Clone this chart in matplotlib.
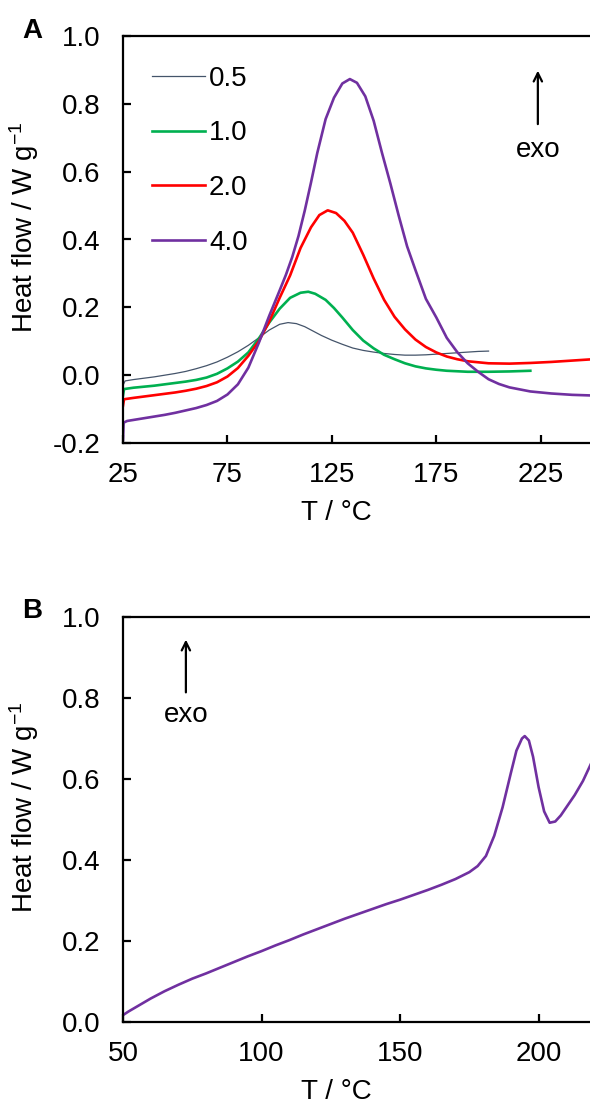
import matplotlib
matplotlib.use("Agg")
import matplotlib.pyplot as plt

plt.rcParams['font.family'] = ['Liberation Sans', 'DejaVu Sans']
plt.rcParams['mathtext.fontset'] = 'custom'
plt.rcParams['mathtext.rm'] = 'Liberation Sans'
plt.rcParams['mathtext.it'] = 'Liberation Sans'

# ---------------- data: panel A ----------------
rate_labels = ["0.5", "1.0", "2.0", "4.0"]
rate_colors = ["#44546A", "#00B050", "#FF0000", "#7030A0"]

T_05 = [25, 26, 30, 35, 40, 45, 50, 55, 60, 65, 70, 75, 80, 85, 90, 95, 100, 104, 108, 112,
        116, 120, 125, 130, 135, 140, 145, 150, 155, 160, 165, 170, 175, 180, 185, 190, 195, 200]
H_05 = [-0.03, -0.017, -0.013, -0.009, -0.005, 0.000, 0.005, 0.011, 0.019, 0.028, 0.039,
        0.053, 0.069, 0.088, 0.110, 0.133, 0.150, 0.155, 0.152, 0.143, 0.130, 0.117, 0.103,
        0.091, 0.080, 0.073, 0.068, 0.064, 0.061, 0.059, 0.059, 0.060, 0.062, 0.064, 0.066,
        0.068, 0.070, 0.071]

T_10 = [25, 25.5, 30, 35, 40, 45, 50, 55, 60, 65, 70, 75, 80, 85, 90, 95, 100, 105, 110,
        113.7, 117, 122, 126, 130, 135, 140, 145, 150, 155, 160, 165, 170, 175, 180, 190,
        200, 210, 220]
H_10 = [-0.06, -0.041, -0.037, -0.034, -0.031, -0.027, -0.023, -0.019, -0.014, -0.007,
        0.004, 0.020, 0.040, 0.067, 0.108, 0.155, 0.196, 0.228, 0.243, 0.246, 0.240, 0.222,
        0.198, 0.170, 0.133, 0.102, 0.079, 0.060, 0.047, 0.035, 0.026, 0.020, 0.016, 0.013,
        0.010, 0.010, 0.011, 0.013]

T_20 = [25, 25.5, 30, 35, 40, 45, 50, 55, 60, 65, 70, 75, 80, 85, 90, 95, 100, 105, 110,
        115, 119, 123, 127, 131, 135, 140, 145, 150, 155, 160, 165, 170, 175, 180, 185, 190,
        200, 210, 220, 230, 240, 250]
H_20 = [-0.09, -0.071, -0.067, -0.063, -0.059, -0.055, -0.051, -0.046, -0.040, -0.032,
        -0.021, -0.004, 0.021, 0.057, 0.100, 0.158, 0.228, 0.294, 0.375, 0.436, 0.472, 0.486,
        0.478, 0.455, 0.420, 0.355, 0.285, 0.222, 0.172, 0.135, 0.105, 0.083, 0.067, 0.055,
        0.047, 0.041, 0.035, 0.034, 0.036, 0.039, 0.043, 0.047]

T_40 = [25, 25.3, 27, 30, 35, 40, 45, 50, 55, 60, 65, 70, 75, 80, 85, 90, 95, 100, 103,
        106, 109, 112, 115, 118, 122, 126, 130, 133.6, 137, 141, 145, 149, 153, 157, 161,
        165, 170, 175, 180, 185, 190, 195, 200, 205, 210, 220, 230, 240, 250]
H_40 = [-0.19, -0.14, -0.135, -0.132, -0.127, -0.122, -0.117, -0.111, -0.104, -0.097,
        -0.088, -0.076, -0.057, -0.027, 0.022, 0.095, 0.175, 0.250, 0.296, 0.348, 0.410,
        0.485, 0.568, 0.655, 0.755, 0.818, 0.860, 0.873, 0.862, 0.822, 0.750, 0.655, 0.565,
        0.470, 0.380, 0.310, 0.225, 0.170, 0.110, 0.068, 0.035, 0.010, -0.012, -0.026,
        -0.036, -0.048, -0.054, -0.058, -0.060]

# ---------------- data: panel B ----------------
T_B = [50, 52, 55, 60, 65, 70, 75, 80, 85, 90, 95, 100, 105, 110, 115, 120, 125, 130, 135,
       140, 145, 150, 155, 160, 165, 170, 175, 178, 181, 184, 187, 190, 192, 194, 195, 196.5,
       198, 200, 202, 204, 206, 208, 210, 213, 216, 219]
H_B = [0.017, 0.026, 0.038, 0.058, 0.076, 0.092, 0.107, 0.120, 0.134, 0.148, 0.162, 0.175,
       0.189, 0.202, 0.216, 0.229, 0.242, 0.255, 0.267, 0.279, 0.291, 0.302, 0.314, 0.326,
       0.339, 0.353, 0.370, 0.385, 0.410, 0.460, 0.530, 0.615, 0.670, 0.700, 0.706, 0.695,
       0.655, 0.580, 0.520, 0.492, 0.495, 0.510, 0.530, 0.560, 0.595, 0.639]

xticks_A = [25, 75, 125, 175, 225]
yticks_A = [-0.2, 0.0, 0.2, 0.4, 0.6, 0.8, 1.0]
xticks_B = [50, 100, 150, 200]
yticks_B = [0.0, 0.2, 0.4, 0.6, 0.8, 1.0]

FS = 20
W, H = 590, 1109
fig = plt.figure(figsize=(W / 100, H / 100), dpi=100)


def px_axes(left, top, right, bottom):
    return fig.add_axes([left / W, (H - bottom) / H, (right - left) / W, (bottom - top) / H])


def style(ax):
    for s in ['left', 'bottom', 'top']:
        ax.spines[s].set_linewidth(1.6)
    ax.spines['right'].set_visible(False)
    ax.tick_params(direction='in', length=6, width=1.6, labelsize=FS, top=False, right=False)
    ax.tick_params(axis='y', pad=16)
    ax.tick_params(axis='x', pad=14)
    ax.set_ylabel(r'Heat flow / W g$^{-1}$', fontsize=FS)
    ax.set_xlabel('T / °C', fontsize=FS, labelpad=2)


def fmt1(v):
    return f"{v:.1f}"


# ---------------- panel A ----------------
axA = px_axes(123, 36, 593, 443)
series = [(T_05, H_05, 0.9), (T_10, H_10, 1.9), (T_20, H_20, 1.9), (T_40, H_40, 1.9)]
for (tx, hy, lw), lab, col in zip(series, rate_labels, rate_colors):
    axA.plot(tx, hy, color=col, lw=lw, label=lab, solid_joinstyle='round')
axA.set_xlim(25, 250)
axA.set_ylim(-0.2, 1.0)
axA.set_xticks(xticks_A)
axA.set_yticks(yticks_A)
axA.set_yticklabels([fmt1(v) for v in yticks_A])
style(axA)
axA.xaxis.set_label_coords(0.455, -0.14)
axA.yaxis.set_label_coords(-0.175, 0.53)
leg = axA.legend(loc='upper left', bbox_to_anchor=(0.062, 0.927), frameon=False,
                 fontsize=FS, handlelength=1.9, handletextpad=0.15, labelspacing=1.03,
                 borderpad=0, borderaxespad=0)
axA.annotate('', xy=(223.6, 0.906), xytext=(223.6, 0.732),
             arrowprops=dict(arrowstyle='->,head_width=0.3,head_length=0.6', lw=1.6, color='black'))
axA.text(223.6, 0.665, 'exo', fontsize=FS, ha='center', va='center')
fig.text(22 / W, (H - 38) / H, 'A', fontsize=20, fontweight='bold', ha='left', va='baseline')

# ---------------- panel B ----------------
axB = px_axes(123, 617, 594, 1022)
axB.plot(T_B, H_B, color="#7030A0", lw=1.9, solid_joinstyle='round')
axB.set_xlim(50, 220)
axB.set_ylim(0.0, 1.0)
axB.set_xticks(xticks_B)
axB.set_yticks(yticks_B)
axB.set_yticklabels([fmt1(v) for v in yticks_B])
style(axB)
axB.xaxis.set_label_coords(0.452, -0.14)
axB.yaxis.set_label_coords(-0.175, 0.53)
axB.annotate('', xy=(72.7, 0.951), xytext=(72.7, 0.807),
             arrowprops=dict(arrowstyle='->,head_width=0.3,head_length=0.6', lw=1.6, color='black'))
axB.text(72.7, 0.758, 'exo', fontsize=FS, ha='center', va='center')
fig.text(22 / W, (H - 618) / H, 'B', fontsize=20, fontweight='bold', ha='left', va='baseline')

fig.savefig('out.png', dpi=100)
